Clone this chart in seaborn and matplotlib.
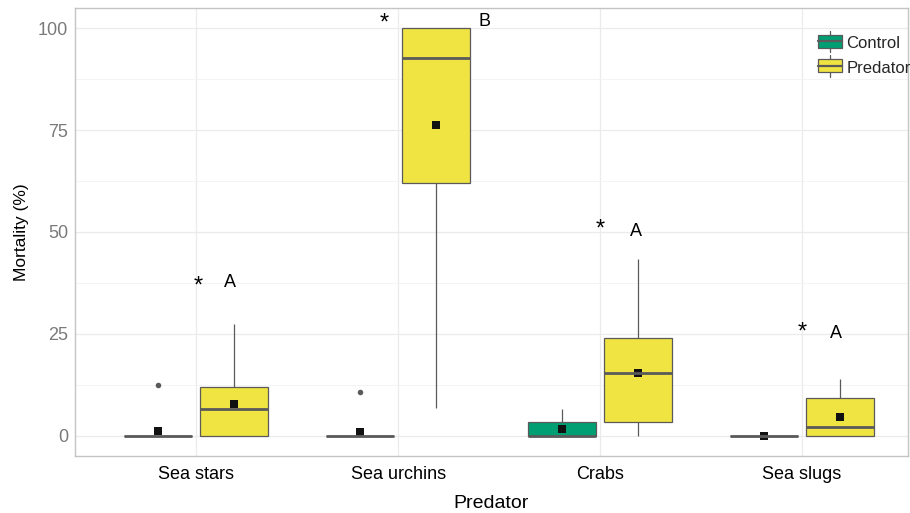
import numpy as np
import pandas as pd
import seaborn as sns
import matplotlib
matplotlib.use("Agg")
import matplotlib.pyplot as plt
from matplotlib.patches import Rectangle
from matplotlib.lines import Line2D
from matplotlib.legend_handler import HandlerBase

# Predator groups and treatments
predators = ["Sea stars", "Sea urchins", "Crabs", "Sea slugs"]
treatments = ["Control", "Predator"]

# Box summaries (% mortality), ordered as predators x treatments
box_low = {"Control": [0.0, 0.0, 0.0, 0.0], "Predator": [0.0, 6.7, 0.0, 0.0]}
box_q1 = {"Control": [0.0, 0.0, 0.0, 0.0], "Predator": [0.0, 62.1, 3.4, 0.0]}
box_median = {"Control": [0.0, 0.0, 0.0, 0.0], "Predator": [6.5, 92.7, 15.5, 2.0]}
box_q3 = {"Control": [0.0, 0.0, 3.4, 0.0], "Predator": [11.9, 100.0, 23.9, 9.3]}
box_high = {"Control": [0.0, 0.0, 6.6, 0.0], "Predator": [27.4, 100.0, 43.3, 14.0]}
outliers = {"Control": [[12.4], [10.6], [], []], "Predator": [[], [], [], []]}

# Group means
means = {"Control": [1.2, 0.8, 1.6, 0.0], "Predator": [7.8, 76.2, 15.4, 4.6]}

# Significance labels above each predator pair
star_labels = ["*", "*", "*", "*"]
letter_labels = ["A", "B", "A", "A"]
star_y = [36.5, 101.2, 50.7, 25.2]
letter_y = [37.5, 101.7, 50.0, 25.0]
star_dx = [0.01, -0.07, 0.0, 0.0]
letter_dx = [0.165, 0.43, 0.18, 0.17]

# Long-form table built from the summaries
rows = []
for t in treatments:
    for i, p in enumerate(predators):
        vals = [box_low[t][i], box_q1[t][i], box_median[t][i], box_q3[t][i], box_high[t][i]]
        vals += outliers[t][i]
        for v in vals:
            rows.append({"Predator": p, "Treatment": t, "Mortality": v})
df = pd.DataFrame(rows)

mean_df = pd.DataFrame(
    [{"Predator": p, "Treatment": t, "Mortality": means[t][i]}
     for t in treatments for i, p in enumerate(predators)]
)

palette = {"Control": "#009E73", "Predator": "#F0E442"}
edge = "#5a5a5a"

sns.set_theme(style="white")
plt.rcParams["font.family"] = ["Liberation Sans", "DejaVu Sans"]

fig = plt.figure(figsize=(9.10, 5.13), dpi=100)
ax = fig.add_axes([75 / 910, 57 / 513, 833 / 910, 448 / 513])

ax.set_axisbelow(True)
sns.boxplot(
    data=df, x="Predator", y="Mortality", hue="Treatment",
    order=predators, hue_order=treatments, palette=palette,
    width=0.75, gap=0.1, whis=1.5, saturation=1, ax=ax, legend=False,
    linecolor=edge, linewidth=0.9, showcaps=False,
    medianprops=dict(color=edge, linewidth=2.0),
    flierprops=dict(marker="o", markersize=4, markerfacecolor=edge,
                    markeredgecolor="none"),
)

sns.pointplot(
    data=mean_df, x="Predator", y="Mortality", hue="Treatment",
    order=predators, hue_order=treatments, palette=["#111111", "#111111"],
    dodge=0.375, errorbar=None, linestyle="none", markers="s",
    markersize=5.5, markeredgewidth=0, ax=ax, legend=False,
)

for i in range(len(predators)):
    ax.text(i + star_dx[i], star_y[i], star_labels[i], ha="center", va="center",
            fontsize=17, color="black")
    ax.text(i + letter_dx[i], letter_y[i], letter_labels[i], ha="center", va="center",
            fontsize=13, color="black")

ax.set_xlim(-0.6, 3.525)
ax.set_ylim(-5, 105)
ax.set_yticks([0, 25, 50, 75, 100])
ax.set_yticks([12.5, 37.5, 62.5, 87.5], minor=True)
ax.grid(True, which="major", color="#EBEBEB", linewidth=0.9)
ax.grid(True, which="minor", axis="y", color="#F2F2F2", linewidth=0.6)

for s in ax.spines.values():
    s.set_color("#C4C4C4")
    s.set_linewidth(1.0)

ax.tick_params(axis="y", which="major", length=3, color="#C4C4C4", labelsize=13,
               labelcolor="#7a7a7a", pad=2)
ax.tick_params(axis="y", which="minor", length=0)
ax.tick_params(axis="x", length=3, color="#C4C4C4", labelsize=13,
               labelcolor="black", pad=4.5)
ax.set_xlabel("Predator", fontsize=14, color="black", labelpad=8)
ax.set_ylabel("Mortality (%)", fontsize=12.5, color="black", labelpad=6)


class BoxKey(HandlerBase):
    def create_artists(self, legend, orig, xd, yd, w, h, fontsize, trans):
        cx = xd + w / 2
        whisk = Line2D([cx, cx], [yd - 0.35 * h, yd + 1.35 * h], color=edge, lw=0.9)
        rect = Rectangle((xd, yd), w, h, facecolor=orig.get_facecolor(),
                         edgecolor=edge, lw=0.9)
        med = Line2D([xd, xd + w], [yd + h / 2, yd + h / 2], color=edge, lw=1.6)
        for a in (whisk, rect, med):
            a.set_transform(trans)
        return [whisk, rect, med]


handles = [Rectangle((0, 0), 1, 1, facecolor=palette[t]) for t in treatments]
leg = ax.legend(
    handles, treatments, handler_map={Rectangle: BoxKey()},
    loc="upper left", bbox_to_anchor=(0.892, 0.937), frameon=False,
    fontsize=12, handlelength=1.45, handleheight=0.8, labelspacing=0.55,
    handletextpad=0.25, borderaxespad=0.0, borderpad=0.0,
)

fig.savefig("out.png", dpi=100, facecolor="white")
